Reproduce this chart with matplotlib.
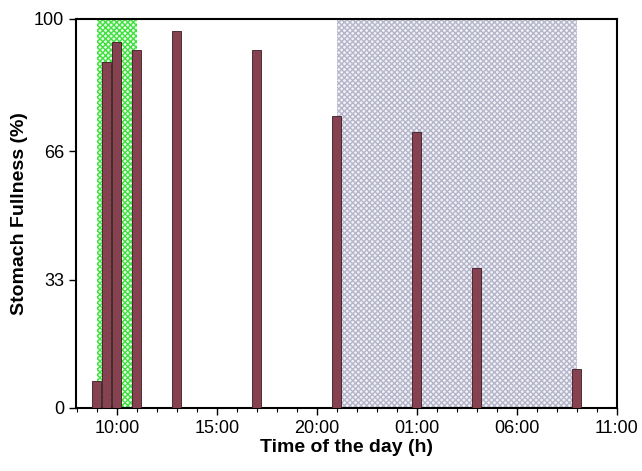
import numpy as np
import matplotlib.pyplot as plt
from matplotlib.ticker import MultipleLocator

plt.rcParams['font.family'] = ['Liberation Sans', 'DejaVu Sans']
plt.rcParams['hatch.linewidth'] = 1.0

# sampling times, hours from midnight of day 1 (25 = 01:00 next day)
hours = [9, 9.5, 10, 11, 13, 17, 21, 25, 28, 33]
fullness = [7, 89, 94, 92, 97, 92, 75, 71, 36, 10]

feeding = (9, 11)     # green window
night = (21, 33)      # dark window

tick_hours = [10, 15, 20, 25, 30, 35]
tick_labels = ['10:00', '15:00', '20:00', '01:00', '06:00', '11:00']
y_ticks = [0, 33, 66, 100]

fig = plt.figure(figsize=(6.42, 4.71), dpi=100)
ax = fig.add_axes([0.118, 0.134, 0.843, 0.826])

ax.axvspan(feeding[0], feeding[1], facecolor='#e8fce8', edgecolor='#3fe03f',
           hatch='xxxxxx', linewidth=0, zorder=1)
ax.axvspan(night[0], night[1], facecolor='#f2f2f6', edgecolor='#b5b5cb',
           hatch='xxxxxx', linewidth=0, zorder=1)

ax.bar(hours, fullness, width=0.45, color='#874252', edgecolor='#3a1a22',
       linewidth=0.6, zorder=3)

ax.set_xlim(7.95, 35)
ax.set_ylim(0, 100)
ax.set_xticks(tick_hours)
ax.set_xticklabels(tick_labels)
ax.xaxis.set_minor_locator(MultipleLocator(1))
ax.set_yticks(y_ticks)
ax.tick_params(axis='both', which='major', labelsize=13, direction='out', length=5, width=1)
ax.tick_params(axis='x', which='minor', direction='out', length=3, width=0.8)
for s in ax.spines.values():
    s.set_linewidth(1.5)

ax.set_xlabel('Time of the day (h)', fontsize=14, fontweight='bold', labelpad=2)
ax.set_ylabel('Stomach Fullness (%)', fontsize=14, fontweight='bold', labelpad=4)

fig.savefig('out.png', dpi=100)
